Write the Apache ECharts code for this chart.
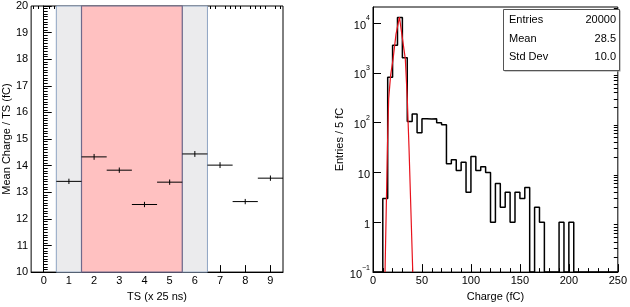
<!DOCTYPE html>
<html>
<head>
<meta charset="utf-8">
<title>TS charge</title>
<script src="https://cdn.jsdelivr.net/npm/echarts@6/dist/echarts.min.js"></script>
<style>
html, body { margin: 0; padding: 0; background: #fff; }
#container { width: 630px; height: 307px; }
</style>
</head>
<body>
<div id="container"></div>
<script>
// ---------- left pad : mean charge per time slice ----------
var tsBins = [1, 2, 3, 4, 5, 6, 7, 8, 9];
var tsMean = [13.41, 14.33, 13.83, 12.54, 13.38, 14.44, 14.02, 12.65, 13.53];
var tsMeanErr = [0.10, 0.11, 0.10, 0.10, 0.10, 0.11, 0.11, 0.10, 0.10];
var tsHalfWidth = 0.5;
var tsTickLabels = [0, 1, 2, 3, 4, 5, 6, 7, 8, 9];
var sideBands = [[0.5, 1.5], [5.5, 6.5]];
var signalBand = [1.5, 5.5];

// ---------- right pad : charge histogram (5 fC bins) ----------
var chargeEdges = [0, 5, 10, 15, 20, 25, 30, 35, 40, 45,
	50, 55, 60, 65, 70, 75, 80, 85, 90, 95,
	100, 105, 110, 115, 120, 125, 130, 135, 140, 145,
	150, 155, 160, 165, 170, 175, 180, 185, 190, 195,
	200, 205, 210, 215, 220, 225, 230, 235, 240, 245];
var chargeCounts = [0, 0, 3, 820, 3600, 12900, 2000, 105, 150, 63,
	120, 118, 120, 100, 91, 15, 18, 11, 16, 4,
	21, 11, 13, 10, 1, 6, 2, 4, 1, 4,
	3, 5, 0, 2, 1, 0, 0, 0, 1, 0,
	1, 0, 0, 0, 0, 0, 0, 0, 0, 0];
var chargeMax = 250;
// gaussian fit, points
var fitX = [12.3, 14.7, 16.0, 18.0, 20.5, 23.5, 27.0, 30.0, 33.0, 35.0, 36.8, 40.6];
var fitY = [0.1, 30, 300, 900, 1900, 6000, 13200, 5000, 1900, 310, 30, 0.1];
var logTicks = [0.1, 1, 10, 100, 1000, 10000];
var statNames = ['Entries', 'Mean', 'Std Dev'];
var statValues = ['20000', '28.5', '10.0'];

var yLogMin = 0.1, yLogMax = 21000;
var FONT = 'Liberation Sans, Arial, Helvetica, sans-serif';

// histogram outline: empty bins are drawn on the axis floor, like ROOT does
var histLine = [];
for (var i = 0; i < chargeEdges.length; i++) {
	histLine.push([chargeEdges[i], chargeCounts[i] > 0 ? chargeCounts[i] : yLogMin]);
}
histLine.push([chargeMax, yLogMin]);

var fitLine = [];
for (var i = 0; i < fitX.length; i++) {
	fitLine.push([fitX[i], fitY[i]]);
}

var crossData = [];
for (var i = 0; i < tsBins.length; i++) {
	crossData.push([tsBins[i], tsMean[i], tsHalfWidth, tsMeanErr[i]]);
}

// minor tick positions (2..9 x 10^n) for the log axis
var logMinor = [];
for (var d = -1; d <= 4; d++) {
	for (var m = 2; m <= 9; m++) {
		var v = m * Math.pow(10, d);
		if (v < yLogMax) logMinor.push(+v.toPrecision(3));
	}
}
// minor ticks every 0.2 on the TS axis
var tsMinor = [];
for (var t = -4; t <= 94; t += 2) {
	if (t % 10 != 0) tsMinor.push(t / 10);
}

function logLabel(v) {
	var e = Math.round(Math.log(v) / Math.LN10);
	if (Math.abs(Math.pow(10, e) - v) > 1e-6 * Math.pow(10, e)) return '';
	if (e == 0) return '{b|1}';
	if (e == 1) return '{b|10}';
	return '{b|10}{s|' + (e < 0 ? '\u2212' + (-e) : e) + '}';
}

function renderCross(params, api) {
	var x = api.value(0), y = api.value(1), ex = api.value(2), ey = api.value(3);
	var l = api.coord([x - ex, y]), r = api.coord([x + ex, y]);
	var t = api.coord([x, y + ey]), b = api.coord([x, y - ey]);
	var st = { stroke: '#000', lineWidth: 1 };
	return {
		type: 'group',
		children: [
			{ type: 'line', shape: { x1: l[0], y1: l[1], x2: r[0], y2: r[1] }, style: st },
			{ type: 'line', shape: { x1: t[0], y1: t[1], x2: b[0], y2: b[1] }, style: st }
		]
	};
}

var axisText = { color: '#000', fontFamily: FONT, fontSize: 11 };
var blackLine = { lineStyle: { color: '#000', width: 1 } };

var dom = document.getElementById('container');
var myChart = echarts.init(dom, null, { renderer: 'canvas' });

var option = {
	animation: false,
	backgroundColor: '#fff',
	grid: [
		{ left: 31, top: 6, width: 252, height: 270, show: true, borderColor: '#000', borderWidth: 1, backgroundColor: '#fff' },
		{ left: 373, top: 7, width: 250, height: 269, show: true, borderColor: '#000', borderWidth: 1, backgroundColor: '#fff' }
	],
	xAxis: [
		{
			gridIndex: 0, type: 'value', min: -0.5, max: 9.5, interval: 0.5,
			name: 'TS (x 25 ns)', nameLocation: 'middle', nameGap: 14,
			nameTextStyle: axisText,
			axisLine: blackLine,
			axisTick: { inside: true, length: 7, customValues: tsTickLabels, lineStyle: { color: '#000' } },
			axisLabel: { customValues: tsTickLabels, margin: 3, color: '#000', fontFamily: FONT, fontSize: 11 },
			splitLine: { show: false }
		},
		{
			gridIndex: 0, type: 'value', min: -0.5, max: 9.5, interval: 0.5,
			axisLine: { show: false },
			axisTick: { inside: true, length: 3, customValues: tsMinor, lineStyle: { color: '#000' } },
			axisLabel: { show: false },
			splitLine: { show: false }
		},
		{
			gridIndex: 1, type: 'value', min: 0, max: chargeMax, interval: 50,
			name: 'Charge (fC)', nameLocation: 'middle', nameGap: 14,
			nameTextStyle: axisText,
			axisLine: blackLine,
			axisTick: { inside: true, length: 8, lineStyle: { color: '#000' } },
			minorTick: { show: true, splitNumber: 5, length: 4, lineStyle: { color: '#000' } },
			axisLabel: { margin: 3, color: '#000', fontFamily: FONT, fontSize: 11, showMaxLabel: true },
			splitLine: { show: false }
		}
	],
	yAxis: [
		{
			gridIndex: 0, type: 'value', min: 10, max: 20, interval: 1,
			name: 'Mean Charge / TS (fC)', nameLocation: 'middle', nameGap: 17,
			nameTextStyle: axisText,
			axisLine: blackLine,
			axisTick: { inside: true, length: 8, lineStyle: { color: '#000' } },
			minorTick: { show: true, splitNumber: 10, length: 4, lineStyle: { color: '#000' } },
			axisLabel: { margin: 3, color: '#000', fontFamily: FONT, fontSize: 11 },
			splitLine: { show: false }
		},
		{
			gridIndex: 1, type: 'log', logBase: 10, min: yLogMin, max: yLogMax,
			name: 'Entries / 5 fC', nameLocation: 'middle', nameGap: 22,
			nameTextStyle: axisText,
			axisLine: blackLine,
			axisTick: { inside: true, length: 8, customValues: logTicks, lineStyle: { color: '#000' } },
			axisLabel: {
				customValues: logTicks, margin: 3, formatter: logLabel,
				rich: {
					b: { color: '#000', fontFamily: FONT, fontSize: 11, lineHeight: 16, verticalAlign: 'bottom' },
					s: { color: '#000', fontFamily: FONT, fontSize: 7, lineHeight: 16, verticalAlign: 'top' }
				}
			},
			splitLine: { show: false }
		},
		{
			gridIndex: 1, type: 'log', logBase: 10, min: yLogMin, max: yLogMax,
			axisLine: { show: false },
			axisTick: { inside: true, length: 4, customValues: logMinor, lineStyle: { color: '#000' } },
			axisLabel: { show: false },
			splitLine: { show: false }
		}
	],
	series: [
		{
			// shaded time slices
			type: 'line', xAxisIndex: 0, yAxisIndex: 0, data: [], z: 1,
			markArea: {
				silent: true,
				data: [
					[{ xAxis: sideBands[0][0], itemStyle: { color: '#ebebed', borderColor: '#8ea3c2', borderWidth: 1 } }, { xAxis: sideBands[0][1] }],
					[{ xAxis: sideBands[1][0], itemStyle: { color: '#ebebed', borderColor: '#8ea3c2', borderWidth: 1 } }, { xAxis: sideBands[1][1] }],
					[{ xAxis: signalBand[0], itemStyle: { color: '#ffc1c1', borderColor: '#6f6a8c', borderWidth: 1.2 } }, { xAxis: signalBand[1] }]
				]
			}
		},
		{
			type: 'custom', xAxisIndex: 0, yAxisIndex: 0, z: 5,
			renderItem: renderCross, data: crossData
		},
		{
			type: 'line', xAxisIndex: 2, yAxisIndex: 1, step: 'end', z: 4,
			symbol: 'none', data: histLine,
			lineStyle: { color: '#000', width: 1.5 }
		},
		{
			type: 'line', xAxisIndex: 2, yAxisIndex: 1, z: 5,
			symbol: 'none', data: fitLine,
			lineStyle: { color: '#e8121c', width: 1.2 }
		}
	],
	graphic: [
		// stats box with a thin shadow
		{ type: 'rect', left: 504.5, top: 10.5, shape: { width: 116, height: 61 }, style: { fill: '#999' }, z: 10 },
		{ type: 'rect', left: 503, top: 9, shape: { width: 116, height: 61 }, style: { fill: '#fff', stroke: '#555', lineWidth: 1 }, z: 11 }
	]
};

// stats box texts
for (var i = 0; i < statNames.length; i++) {
	option.graphic.push({ type: 'text', x: 509, y: 20 + i * 18.5, z: 12,
		style: { text: statNames[i], fill: '#000', font: '11px ' + FONT, textVerticalAlign: 'middle' } });
	option.graphic.push({ type: 'text', x: 616, y: 20 + i * 18.5, z: 12,
		style: { text: statValues[i], fill: '#000', font: '11px ' + FONT, textAlign: 'right', textVerticalAlign: 'middle' } });
}

if (option && typeof option === 'object') {
	myChart.setOption(option, true);
}
</script>
</body>
</html>
